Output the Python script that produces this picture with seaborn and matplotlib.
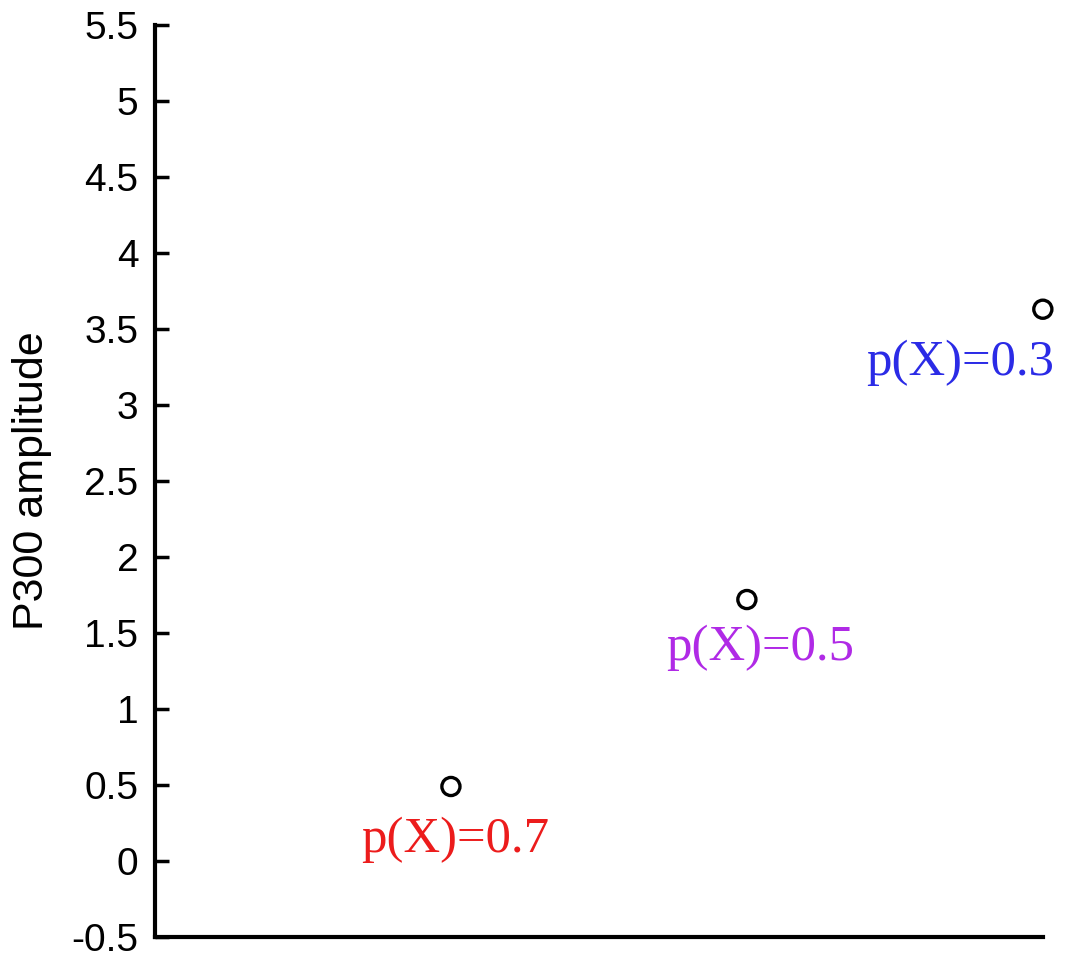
import pandas as pd
import seaborn as sns
import matplotlib.pyplot as plt

# data
conditions = [1, 2, 3]
p300_amplitude = [0.49, 1.72, 3.63]
labels = ["p(X)=0.7", "p(X)=0.5", "p(X)=0.3"]
label_x = [1.013, 2.045, 2.72]
label_y = [0.14, 1.40, 3.28]
label_colors = ["#ec1c1c", "#b02ae6", "#2b2be6"]
yticks = [-0.5, 0, 0.5, 1, 1.5, 2, 2.5, 3, 3.5, 4, 4.5, 5, 5.5]
ytick_labels = ["-0.5", "0", "0.5", "1", "1.5", "2", "2.5", "3", "3.5", "4", "4.5", "5", "5.5"]

sns.set_style("ticks")
plt.rcParams['font.family'] = ['Liberation Sans', 'DejaVu Sans']
plt.rcParams['text.color'] = 'black'
plt.rcParams['axes.labelcolor'] = 'black'
plt.rcParams['ytick.color'] = 'black'
plt.rcParams['axes.edgecolor'] = 'black'

df = pd.DataFrame({'cond': conditions, 'amp': p300_amplitude})

fig = plt.figure(figsize=(10.71, 9.61), dpi=100)
ax = fig.add_axes([0.1447, 0.025, 0.829, 0.949])
sns.scatterplot(x='cond', y='amp', data=df, ax=ax, marker='o', s=170,
                facecolor='none', edgecolor='black', linewidth=2.4, clip_on=False, zorder=5)

for x, y, t, c in zip(label_x, label_y, labels, label_colors):
    ax.text(x, y, t, color=c, fontsize=36.5, ha='center', va='center',
            family=['Liberation Serif', 'DejaVu Serif'])

ax.set_xlim(0, 3)
ax.set_ylim(-0.5, 5.5)
ax.set_xticks([])
ax.set_yticks(yticks)
ax.set_yticklabels(ytick_labels)
ax.tick_params(axis='y', direction='in', length=10, width=2.5, labelsize=28, pad=12)
ax.set_xlabel("")
ax.set_ylabel("P300 amplitude", fontsize=31, labelpad=14)
for s in ['top', 'right']:
    ax.spines[s].set_visible(False)
for s in ['left', 'bottom']:
    ax.spines[s].set_linewidth(3)

fig.savefig("out.png", dpi=100)
